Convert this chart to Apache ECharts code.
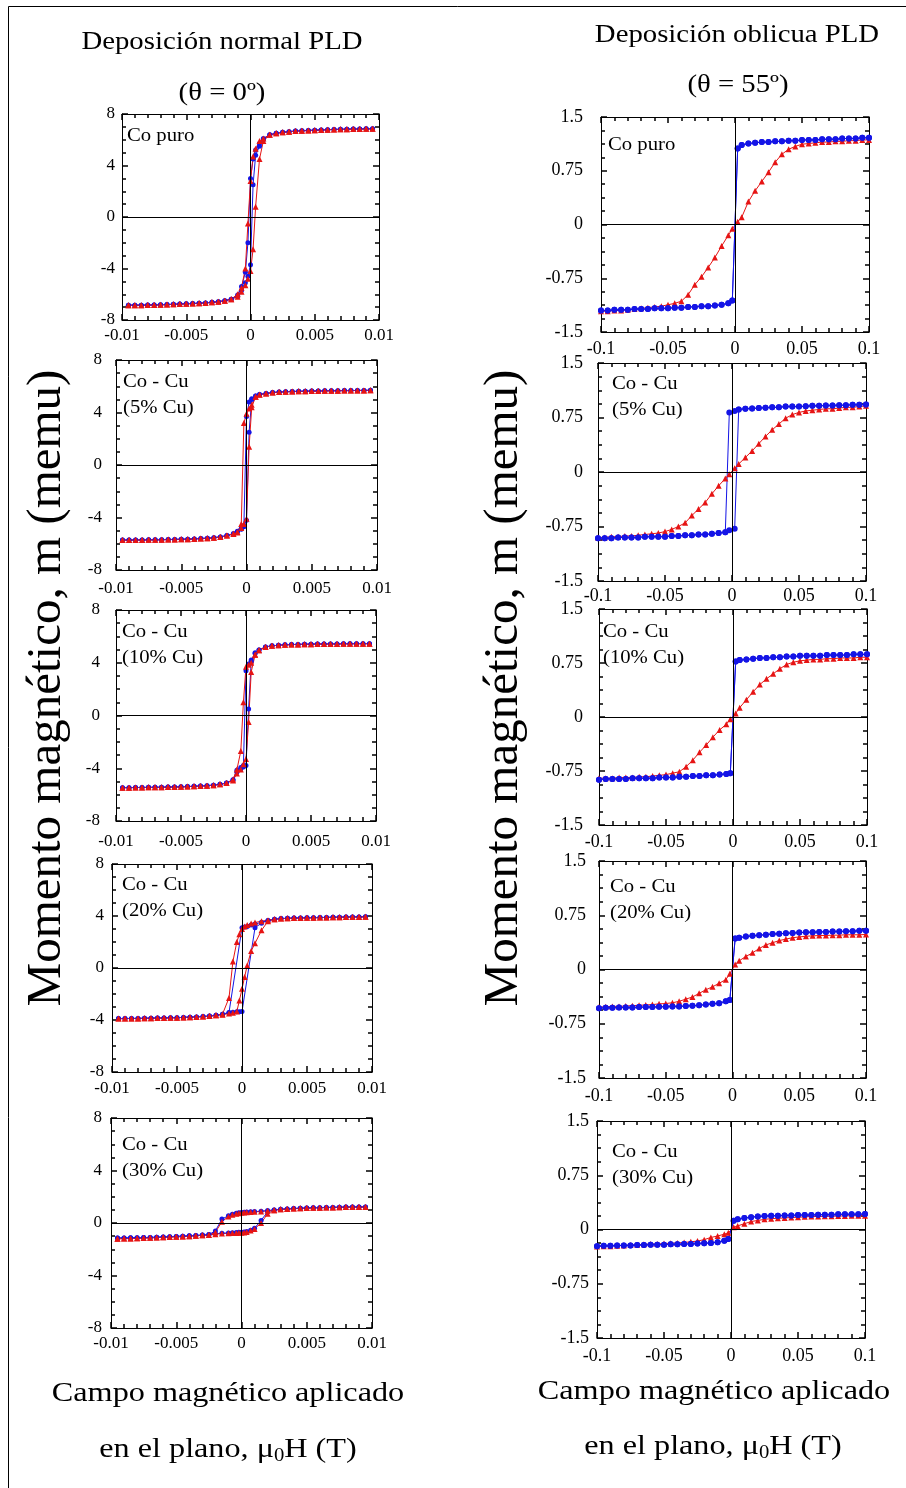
<!DOCTYPE html>
<html><head><meta charset="utf-8">
<script src="https://cdn.jsdelivr.net/npm/echarts@6/dist/echarts.min.js"></script>
<style>html,body{margin:0;padding:0;background:#fff}#c{width:906px;height:1488px}</style>
</head><body><div id="c"></div>
<script>
// ---------------- DATA ----------------
// Left column (normal deposition): field grid (T)
const XL = [-0.0095,-0.009,-0.0085,-0.008,-0.0075,-0.007,-0.0065,-0.006,-0.0055,-0.005,-0.0045,-0.004,-0.0035,-0.003,-0.0025,-0.002,-0.0015,-0.001,-0.0007,-0.0004,-0.0002,0,0.0002,0.0004,0.0007,0.001,0.0015,0.002,0.0025,0.003,0.0035,0.004,0.0045,0.005,0.0055,0.006,0.0065,0.007,0.0075,0.008,0.0085,0.009,0.0095];
// Right column (oblique deposition): field grid (T)
const XR = [-0.1,-0.095,-0.09,-0.085,-0.08,-0.075,-0.07,-0.065,-0.06,-0.055,-0.05,-0.045,-0.04,-0.035,-0.03,-0.025,-0.02,-0.015,-0.01,-0.005,-0.002,0.002,0.005,0.01,0.015,0.02,0.025,0.03,0.035,0.04,0.045,0.05,0.055,0.06,0.065,0.07,0.075,0.08,0.085,0.09,0.095,0.1];

// Left panel 1: Co puro (memu)
const L1_NEG = [-6.85,-6.85,-6.85,-6.84,-6.83,-6.82,-6.8,-6.78,-6.76,-6.74,-6.72,-6.7,-6.67,-6.63,-6.58,-6.5,-6.38];
const L1_POS = [6.38,6.5,6.58,6.63,6.67,6.7,6.72,6.74,6.76,6.78,6.8,6.81,6.82,6.83,6.84,6.85,6.85];
const L1_BLUE_DOWN = [-6.05,-5.4,-4.3,-2.0,3.0,4.5,5.2,5.7,6.1];
const L1_BLUE_UP   = [-6.15,-5.7,-5.1,-4.6,-3.7,2.5,4.8,5.5,6.0];
const L1_RED_DOWN  = [-6.0,-5.5,-4.0,-0.5,2.8,4.7,5.3,5.9,6.1];
const L1_RED_UP    = [-6.2,-5.8,-5.3,-4.8,-4.2,-2.5,0.8,4.5,5.9];

// Left panel 2: 5% Cu
const L2_NEG = [-5.72,-5.72,-5.71,-5.71,-5.7,-5.7,-5.69,-5.68,-5.67,-5.66,-5.65,-5.63,-5.6,-5.58,-5.54,-5.48,-5.38];
const L2_POS = [5.45,5.52,5.56,5.58,5.6,5.61,5.62,5.63,5.64,5.65,5.66,5.66,5.67,5.67,5.68,5.68,5.69];
const L2_BLUE_DOWN = [-5.22,-5.05,-4.85,-4.6,3.7,4.8,5.05,5.25,5.38];
const L2_BLUE_UP   = [-5.25,-5.1,-4.9,-4.7,-4.2,2.5,5.0,5.25,5.38];
const L2_RED_DOWN  = [-5.22,-5.1,-4.5,3.2,3.9,4.3,4.6,5.2,5.38];
const L2_RED_UP    = [-5.25,-5.15,-4.8,-4.5,-4.1,1.4,4.4,5.2,5.35];

// Left panel 3: 10% Cu
const L3_NEG = [-5.47,-5.47,-5.46,-5.46,-5.45,-5.45,-5.44,-5.43,-5.42,-5.41,-5.39,-5.37,-5.35,-5.32,-5.28,-5.22,-5.12];
const L3_POS = [5.2,5.28,5.33,5.36,5.38,5.39,5.4,5.41,5.42,5.42,5.43,5.43,5.44,5.44,5.45,5.45,5.45];
const L3_BLUE_DOWN = [-4.88,-4.15,-3.95,-3.8,3.4,3.9,4.2,4.7,4.97];
const L3_BLUE_UP   = [-4.9,-4.3,-4.05,-3.9,-3.8,0.5,4.1,4.75,4.97];
const L3_RED_DOWN  = [-4.85,-4.1,-2.7,1.0,3.7,3.85,4.0,4.6,4.95];
const L3_RED_UP    = [-4.92,-4.4,-4.1,-3.7,-3.3,-0.5,3.3,4.6,4.95];

// Left panel 4: 20% Cu
const L4_NEG = [-3.89,-3.89,-3.88,-3.88,-3.87,-3.86,-3.85,-3.84,-3.83,-3.82,-3.8,-3.78,-3.76,-3.73,-3.7,-3.64];
const L4_POS = [3.75,3.8,3.82,3.84,3.85,3.86,3.87,3.88,3.89,3.9,3.91,3.92,3.93,3.93,3.94];
const L4_BLUE_DOWN = [-3.55,-3.42,null,null,null,3.1,3.15,3.2,3.3,3.38,3.52,3.66];
const L4_BLUE_UP   = [-3.55,-3.45,-3.4,-3.37,-3.36,-3.35,null,null,null,3.1,3.45,3.66];
const L4_RED_DOWN  = [-3.55,-2.3,0.5,2.0,2.6,3.0,3.2,3.3,3.42,3.5,3.6,3.68];
const L4_RED_UP    = [-3.6,-3.5,-3.45,-3.35,-2.5,-1.6,-0.7,0.2,1.3,1.9,2.9,3.6];

// Left panel 5: 30% Cu
const L5_NEG_BLUE = [-1.14,-1.14,-1.13,-1.12,-1.11,-1.1,-1.08,-1.06,-1.04,-1.02,-1.0,-0.98,-0.95,-0.92];
const L5_NEG_RED  = [-1.2,-1.19,-1.18,-1.17,-1.15,-1.13,-1.11,-1.09,-1.07,-1.05,-1.03,-1.0,-0.97,-0.94];
const L5_POS = [1.04,1.07,1.1,1.12,1.14,1.16,1.17,1.18,1.19,1.2,1.21,1.22,1.22,1.22];
const L5_BLUE_DOWN = [-0.88,-0.6,0.3,0.55,0.67,0.74,0.78,0.8,0.82,0.83,0.85,0.87,0.9,0.95,1.0];
const L5_BLUE_UP   = [-0.88,-0.82,-0.78,-0.76,-0.74,-0.72,-0.71,-0.7,-0.68,-0.64,-0.55,-0.4,0.2,0.85,1.0];
const L5_RED_DOWN  = [-0.92,-0.7,0.1,0.5,0.63,0.7,0.75,0.78,0.8,0.81,0.83,0.85,0.88,0.93,0.98];
const L5_RED_UP    = [-0.92,-0.85,-0.8,-0.78,-0.77,-0.76,-0.75,-0.74,-0.72,-0.68,-0.58,-0.45,0.0,0.7,0.98];

// Right panel 1: Co puro
const R1_BLUE_NEG = [-1.2,-1.2,-1.19,-1.19,-1.19,-1.18,-1.18,-1.18,-1.17,-1.17,-1.17,-1.16,-1.16,-1.15,-1.15,-1.14,-1.14,-1.13,-1.12,-1.1];
const R1_BLUE_POS = [1.11,1.13,1.14,1.15,1.15,1.16,1.16,1.17,1.17,1.18,1.18,1.18,1.19,1.19,1.19,1.2,1.2,1.2,1.21,1.21];
const R1_BLUE_DOWN_MID = [-1.06,1.06];
const R1_BLUE_UP_MID   = [-1.06,1.06];
const R1_RED_NEG = [-1.21,-1.21,-1.2,-1.2,-1.19,-1.18,-1.17,-1.16,-1.15,-1.14,-1.12,-1.1,-1.07,-0.98,-0.84,-0.73,-0.6,-0.46,-0.3,-0.15];
const R1_RED_MID = [-0.06,0.04];
const R1_RED_POS = [0.1,0.32,0.47,0.6,0.73,0.87,0.98,1.05,1.09,1.12,1.13,1.14,1.15,1.15,1.16,1.16,1.17,1.17,1.18,1.18];

// Right panel 2: 5% Cu
const R2_BLUE_NEG = [-0.91,-0.91,-0.91,-0.9,-0.9,-0.9,-0.9,-0.89,-0.89,-0.89,-0.89,-0.88,-0.88,-0.87,-0.87,-0.86,-0.86,-0.85,-0.84,-0.83];
const R2_BLUE_POS = [0.86,0.87,0.875,0.88,0.885,0.89,0.89,0.9,0.9,0.9,0.905,0.91,0.91,0.915,0.915,0.92,0.92,0.925,0.925,0.93];
const R2_BLUE_DOWN_MID = [0.82,0.84];
const R2_BLUE_UP_MID   = [-0.8,-0.78];
const R2_RED_NEG = [-0.9,-0.9,-0.89,-0.89,-0.88,-0.88,-0.87,-0.86,-0.85,-0.84,-0.82,-0.79,-0.75,-0.7,-0.6,-0.51,-0.42,-0.3,-0.19,-0.09];
const R2_RED_MID = [-0.03,0.05];
const R2_RED_POS = [0.11,0.2,0.29,0.39,0.49,0.58,0.66,0.74,0.79,0.82,0.84,0.85,0.86,0.87,0.87,0.88,0.89,0.89,0.9,0.91];

// Right panel 3: 10% Cu
const R3_BLUE_NEG = [-0.87,-0.86,-0.86,-0.86,-0.86,-0.85,-0.85,-0.85,-0.85,-0.84,-0.84,-0.84,-0.83,-0.83,-0.82,-0.82,-0.81,-0.81,-0.8,-0.79];
const R3_BLUE_POS = [0.79,0.8,0.81,0.82,0.82,0.83,0.83,0.84,0.84,0.85,0.85,0.85,0.85,0.86,0.86,0.86,0.86,0.87,0.87,0.87];
const R3_BLUE_DOWN_MID = [-0.78,0.77];
const R3_BLUE_UP_MID   = [-0.78,0.77];
const R3_RED_NEG = [-0.85,-0.85,-0.85,-0.84,-0.84,-0.84,-0.83,-0.83,-0.82,-0.81,-0.8,-0.78,-0.76,-0.69,-0.6,-0.49,-0.39,-0.28,-0.18,-0.1];
const R3_RED_MID = [-0.03,0.05];
const R3_RED_POS = [0.13,0.24,0.35,0.45,0.53,0.6,0.67,0.73,0.76,0.78,0.79,0.8,0.8,0.81,0.81,0.82,0.82,0.82,0.83,0.83];

// Right panel 4: 20% Cu
const R4_BLUE_NEG = [-0.535,-0.53,-0.53,-0.525,-0.525,-0.525,-0.52,-0.52,-0.52,-0.515,-0.515,-0.51,-0.51,-0.505,-0.5,-0.495,-0.485,-0.475,-0.465,-0.44];
const R4_BLUE_POS = [0.44,0.455,0.465,0.475,0.48,0.49,0.495,0.5,0.505,0.51,0.515,0.515,0.52,0.52,0.525,0.525,0.53,0.53,0.535,0.535];
const R4_BLUE_DOWN_MID = [-0.42,0.43];
const R4_BLUE_UP_MID   = [-0.42,0.43];
const R4_RED_NEG = [-0.52,-0.515,-0.51,-0.51,-0.505,-0.5,-0.495,-0.49,-0.485,-0.475,-0.47,-0.46,-0.44,-0.41,-0.38,-0.33,-0.28,-0.24,-0.19,-0.14];
const R4_RED_MID = [-0.06,0.07];
const R4_RED_POS = [0.12,0.18,0.23,0.29,0.34,0.37,0.4,0.42,0.44,0.45,0.46,0.465,0.47,0.47,0.475,0.475,0.48,0.48,0.48,0.485];

// Right panel 5: 30% Cu
const R5_BLUE_NEG = [-0.23,-0.225,-0.225,-0.22,-0.22,-0.22,-0.215,-0.215,-0.21,-0.21,-0.21,-0.205,-0.205,-0.2,-0.2,-0.195,-0.19,-0.185,-0.175,-0.155];
const R5_BLUE_POS = [0.14,0.16,0.17,0.18,0.185,0.19,0.19,0.195,0.195,0.2,0.2,0.2,0.205,0.205,0.205,0.21,0.21,0.21,0.21,0.215];
const R5_BLUE_DOWN_MID = [-0.13,0.12];
const R5_BLUE_UP_MID   = [-0.13,0.12];
const R5_RED_NEG = [-0.235,-0.23,-0.23,-0.225,-0.22,-0.215,-0.21,-0.205,-0.2,-0.2,-0.195,-0.19,-0.185,-0.18,-0.17,-0.16,-0.14,-0.11,-0.09,-0.065];
const R5_RED_MID = [-0.045,0.03];
const R5_RED_POS = [0.05,0.08,0.11,0.125,0.14,0.15,0.155,0.16,0.165,0.17,0.175,0.178,0.18,0.182,0.184,0.186,0.188,0.19,0.19,0.19];

// Axis ranges / tick labels: [min, max, interval]
const L_XRANGE = [-0.01, 0.01, 0.005];
const L_YRANGE = [-8, 8, 4];
const R_XRANGE = [-0.1, 0.1, 0.05];
const R_YRANGE = [-1.5, 1.5, 0.75];

const LABELS = [['Co puro'],['Co - Cu','(5% Cu)'],['Co - Cu','(10% Cu)'],['Co - Cu','(20% Cu)'],['Co - Cu','(30% Cu)']];

// ---------------- BUILD ----------------
const left = [
  {blueDown:[...L1_NEG,...L1_BLUE_DOWN,...L1_POS], blueUp:[...L1_NEG,...L1_BLUE_UP,...L1_POS], redDown:[...L1_NEG,...L1_RED_DOWN,...L1_POS], redUp:[...L1_NEG,...L1_RED_UP,...L1_POS]},
  {blueDown:[...L2_NEG,...L2_BLUE_DOWN,...L2_POS], blueUp:[...L2_NEG,...L2_BLUE_UP,...L2_POS], redDown:[...L2_NEG,...L2_RED_DOWN,...L2_POS], redUp:[...L2_NEG,...L2_RED_UP,...L2_POS]},
  {blueDown:[...L3_NEG,...L3_BLUE_DOWN,...L3_POS], blueUp:[...L3_NEG,...L3_BLUE_UP,...L3_POS], redDown:[...L3_NEG,...L3_RED_DOWN,...L3_POS], redUp:[...L3_NEG,...L3_RED_UP,...L3_POS]},
  {blueDown:[...L4_NEG,...L4_BLUE_DOWN,...L4_POS], blueUp:[...L4_NEG,...L4_BLUE_UP,...L4_POS], redDown:[...L4_NEG,...L4_RED_DOWN,...L4_POS], redUp:[...L4_NEG,...L4_RED_UP,...L4_POS]},
  {blueDown:[...L5_NEG_BLUE,...L5_BLUE_DOWN,...L5_POS], blueUp:[...L5_NEG_BLUE,...L5_BLUE_UP,...L5_POS], redDown:[...L5_NEG_RED,...L5_RED_DOWN,...L5_POS], redUp:[...L5_NEG_RED,...L5_RED_UP,...L5_POS]}
];
const right = [
  {blueDown:[...R1_BLUE_NEG,...R1_BLUE_DOWN_MID,...R1_BLUE_POS], blueUp:[...R1_BLUE_NEG,...R1_BLUE_UP_MID,...R1_BLUE_POS], red:[...R1_RED_NEG,...R1_RED_MID,...R1_RED_POS]},
  {blueDown:[...R2_BLUE_NEG,...R2_BLUE_DOWN_MID,...R2_BLUE_POS], blueUp:[...R2_BLUE_NEG,...R2_BLUE_UP_MID,...R2_BLUE_POS], red:[...R2_RED_NEG,...R2_RED_MID,...R2_RED_POS]},
  {blueDown:[...R3_BLUE_NEG,...R3_BLUE_DOWN_MID,...R3_BLUE_POS], blueUp:[...R3_BLUE_NEG,...R3_BLUE_UP_MID,...R3_BLUE_POS], red:[...R3_RED_NEG,...R3_RED_MID,...R3_RED_POS]},
  {blueDown:[...R4_BLUE_NEG,...R4_BLUE_DOWN_MID,...R4_BLUE_POS], blueUp:[...R4_BLUE_NEG,...R4_BLUE_UP_MID,...R4_BLUE_POS], red:[...R4_RED_NEG,...R4_RED_MID,...R4_RED_POS]},
  {blueDown:[...R5_BLUE_NEG,...R5_BLUE_DOWN_MID,...R5_BLUE_POS], blueUp:[...R5_BLUE_NEG,...R5_BLUE_UP_MID,...R5_BLUE_POS], red:[...R5_RED_NEG,...R5_RED_MID,...R5_RED_POS]}
];

function zip(xs, ys){ const o=[]; for(let i=0;i<xs.length;i++){ if(ys[i]!==null&&ys[i]!==undefined) o.push([xs[i],ys[i]]); } return o; }
function loop(xs, down, up){ return zip(xs,down).reverse().concat(zip(xs,up)); }

// layout (pixels): grid rect, label margins, panel text anchor
const LAYOUT = [
  {g:[122,114,257,206], xm:7, ym:7,  t:[127,136]},
  {g:[116,360,261,210], xm:10, ym:14, t:[123,382]},
  {g:[116,610,260,211], xm:12, ym:16, t:[122,632]},
  {g:[112,864,260,208], xm:8, ym:8,  t:[122,885]},
  {g:[111,1118,261,210],xm:7, ym:9,  t:[122,1145]},
  {g:[601,117,268,215], xm:8, ym:18, t:[608,145]},
  {g:[598,363,268,218], xm:6, ym:15, t:[612,384]},
  {g:[599,609,268,216], xm:8, ym:16, t:[603,632]},
  {g:[599,861,267,217], xm:9, ym:13, t:[610,887]},
  {g:[597,1121,268,217],xm:9, ym:8,  t:[612,1152]}
];

const FONT = '"Liberation Serif","Times New Roman",serif';
const BLUE = '#1414e6', RED = '#e61414';
const grids=[], xAxes=[], yAxes=[], series=[], graphics=[];
const fmt = v => String(+(+v).toFixed(4));

function mkAxis(dim, gi, pos, rng, main, margin, fs){
  return {
    type:'value', gridIndex:gi, position:pos,
    min:rng[0], max:rng[1], interval:rng[2],
    axisLine:{show:true, onZero:false, lineStyle:{color:'#000', width:1}},
    axisTick:{show:true, inside:true, length:6, lineStyle:{color:'#000',width:1.5}},
    minorTick:{show:true, splitNumber: dim==='x'?5:4, length:4, lineStyle:{color:'#000',width:1.5}},
    splitLine:{show:false},
    axisLabel:{show:main, margin:margin, formatter:fmt, color:'#000', fontFamily:FONT, fontSize:fs}
  };
}

LAYOUT.forEach((ly,i)=>{
  const isL = i<5;
  const k = isL? i : i-5;
  grids.push({left:ly.g[0], top:ly.g[1], width:ly.g[2], height:ly.g[3], show:false});
  const xr = isL? L_XRANGE : R_XRANGE, yr = isL? L_YRANGE : R_YRANGE;
  const fs = isL? 17 : 18;
  xAxes.push(mkAxis('x',i,'bottom',xr,true,ly.xm,fs));
  xAxes.push(mkAxis('x',i,'top',xr,false,0,fs));
  yAxes.push(mkAxis('y',i,'left',yr,true,ly.ym,fs));
  yAxes.push(mkAxis('y',i,'right',yr,false,0,fs));
  const zero = {silent:true, symbol:'none', label:{show:false}, lineStyle:{color:'#000',width:1,type:'solid'}, emphasis:{disabled:true}, data:[{xAxis:0},{yAxis:0}]};
  const base = (color, sym, size, data) => ({type:'line', xAxisIndex:2*i, yAxisIndex:2*i, data, symbol:sym, symbolSize:size, showSymbol:true, lineStyle:{color, width:1}, itemStyle:{color}, silent:true, animation:false});
  if(isL){
    const d = left[k];
    const s1 = base(BLUE,'circle',5, loop(XL,d.blueDown,d.blueUp)); s1.markLine = zero;
    const s2 = base(RED,'triangle',6, loop(XL,d.redDown,d.redUp));
    series.push(s1,s2);
  } else {
    const d = right[k];
    const s1 = base(RED,'triangle',6, zip(XR,d.red)); s1.markLine = zero;
    const s2 = base(BLUE,'circle',6, loop(XR,d.blueDown,d.blueUp));
    series.push(s1,s2);
  }
  LABELS[k].forEach((txt,j)=>{
    graphics.push({type:'text', x:ly.t[0], y:ly.t[1]+j*26, scaleX:1.15, silent:true,
      style:{text:txt, font:'18px '+FONT, fill:'#000', align:'left', verticalAlign:'middle'}});
  });
});

// titles and axis names
function T(txt, x, y, size, opt){ return Object.assign({type:'text', x, y, silent:true, style:{text:txt, font:size+'px '+FONT, fill:'#000', align:'center', verticalAlign:'middle'}}, opt||{}); }
graphics.push(T('Deposición normal PLD',222,42,25,{scaleX:1.15}));
graphics.push(T('(θ = 0º)',222,93,25,{scaleX:1.15}));
graphics.push(T('Deposición oblicua PLD',737,35,25,{scaleX:1.15}));
graphics.push(T('(θ = 55º)',738,85,25,{scaleX:1.15}));
graphics.push(T('Momento magnético, m (memu)',47,688,49,{rotation:Math.PI/2}));
graphics.push(T('Momento magnético, m (memu)',504,688,49,{rotation:Math.PI/2}));
graphics.push(T('Campo magnético aplicado',228,1394,28,{scaleX:1.15}));
graphics.push(T('Campo magnético aplicado',714,1392,28,{scaleX:1.15}));
function sub(x,y){ return {type:'text', x, y, scaleX:1.15, silent:true, style:{text:'{a|en el plano, μ}{s|0}{a|H (T)}', align:'center', verticalAlign:'middle', fill:'#000',
  rich:{a:{fontFamily:FONT, fontSize:28, lineHeight:34, verticalAlign:'middle', fill:'#000'}, s:{fontFamily:FONT, fontSize:18, lineHeight:34, verticalAlign:'bottom', fill:'#000', padding:[0,0,2,0]}}}}; }
graphics.push(sub(228,1450));
graphics.push(sub(713,1447));
// frame
graphics.push({type:'line', silent:true, shape:{x1:8.5,y1:6.5,x2:8.5,y2:1488}, style:{stroke:'#000',lineWidth:1}});
graphics.push({type:'line', silent:true, shape:{x1:8.5,y1:6.5,x2:906,y2:6.5}, style:{stroke:'#000',lineWidth:1}});

const chart = echarts.init(document.getElementById('c'), null, {renderer:'canvas'});
chart.setOption({animation:false, backgroundColor:'#fff', grid:grids, xAxis:xAxes, yAxis:yAxes, series, graphic:graphics});
</script></body></html>
